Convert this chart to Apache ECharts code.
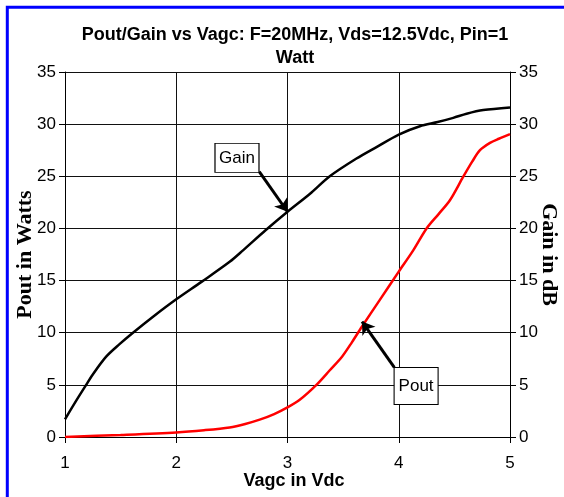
<!DOCTYPE html>
<html>
<head>
<meta charset="utf-8">
<script src="https://cdn.jsdelivr.net/npm/echarts@6/dist/echarts.min.js"></script>
<style>
  html, body { margin: 0; padding: 0; background: #fff; }
  #chart { width: 564px; height: 497px; }
</style>
</head>
<body>
<div id="chart"></div>
<script>
// Gain curve (right axis, dB)
const gainVagc = [1.0, 1.09, 1.19, 1.25, 1.37, 1.49, 1.6, 1.8, 2.0, 2.23, 2.48, 2.6, 2.8, 3.0, 3.2, 3.38, 3.62, 3.8, 4.0, 4.19, 4.35, 4.49, 4.61, 4.76, 5.0];
const gainDb = [1.7, 3.3, 5.0, 6.0, 7.7, 8.9, 9.9, 11.6, 13.2, 14.9, 16.8, 17.9, 19.8, 21.6, 23.3, 25.0, 26.7, 27.8, 29.0, 29.8, 30.2, 30.6, 31.0, 31.35, 31.6];

// Pout curve (left axis, Watts)
const poutVagc = [1.0, 1.5, 2.0, 2.25, 2.48, 2.62, 2.75, 2.88, 3.0, 3.11, 3.26, 3.38, 3.49, 3.58, 3.67, 3.83, 4.0, 4.13, 4.25, 4.36, 4.46, 4.58, 4.66, 4.73, 4.82, 4.9, 5.0];
const poutWatts = [0, 0.2, 0.44, 0.65, 0.92, 1.25, 1.66, 2.2, 2.84, 3.57, 5.0, 6.4, 7.7, 9.1, 10.6, 13.15, 15.86, 17.9, 20.0, 21.4, 22.7, 24.96, 26.4, 27.5, 28.2, 28.6, 29.05];

const titleLines = ['Pout/Gain vs Vagc: F=20MHz, Vds=12.5Vdc, Pin=1', 'Watt'];

const tickFont = "'Liberation Sans', Arial, sans-serif";
const serifFont = "'Liberation Serif', 'Times New Roman', serif";

const pairs = (xs, ys) => xs.map((x, i) => [x, ys[i]]);

const yAxisBase = {
  type: 'value',
  min: 0,
  max: 35,
  interval: 5,
  axisLine: { show: true, lineStyle: { color: '#000', width: 1 } },
  axisTick: { show: true, length: 6, lineStyle: { color: '#000' } },
  axisLabel: { color: '#000', fontSize: 17, fontFamily: tickFont, margin: 9 },
  nameLocation: 'middle',
  nameMoveOverlap: false,
  nameTextStyle: { fontFamily: serifFont, fontWeight: 'bold', fontSize: 22, color: '#000' }
};

const option = {
  animation: false,
  backgroundColor: '#fff',
  title: {
    text: titleLines.join('\n'),
    left: 290,
    top: 19,
    textAlign: 'center',
    textStyle: {
      fontFamily: "'Liberation Sans', Arial, sans-serif",
      fontWeight: 'bold',
      fontSize: 18,
      lineHeight: 23,
      color: '#000'
    }
  },
  graphic: [{
    type: 'rect',
    shape: { x: 7.3, y: 7.3, width: 700, height: 700 },
    style: { fill: 'none', stroke: '#0000ff', lineWidth: 3 },
    silent: true
  }],
  grid: { left: 65, right: 54, top: 72, bottom: 60, containLabel: false, outerBoundsMode: 'none' },
  xAxis: {
    type: 'value',
    min: 1,
    max: 5,
    interval: 1,
    name: 'Vagc in Vdc',
    nameLocation: 'middle',
    nameMoveOverlap: false,
    nameGap: 35,
    nameTextStyle: {
      fontFamily: "'Liberation Sans', Arial, sans-serif",
      fontWeight: 'bold', fontSize: 18, color: '#000',
      padding: [0, 0, 0, 13]
    },
    axisLine: { show: true, lineStyle: { color: '#000', width: 1 } },
    axisTick: { show: true, length: 6, lineStyle: { color: '#000' } },
    axisLabel: { color: '#000', fontSize: 17, fontFamily: tickFont, margin: 18 },
    splitLine: { show: true, lineStyle: { color: '#111', width: 1 } }
  },
  yAxis: [
    Object.assign({}, yAxisBase, {
      position: 'left',
      name: 'Pout in Watts',
      nameRotate: 90,
      nameGap: 29,
      splitLine: { show: true, lineStyle: { color: '#111', width: 1 } }
    }),
    Object.assign({}, yAxisBase, {
      position: 'right',
      name: 'Gain in dB',
      nameRotate: -90,
      nameGap: 28,
      splitLine: { show: false }
    })
  ],
  series: [
    {
      name: 'Pout',
      type: 'line',
      yAxisIndex: 0,
      data: pairs(poutVagc, poutWatts),
      smooth: 0.3,
      showSymbol: false,
      lineStyle: { color: '#ff0000', width: 2.5 },
      z: 3
    },
    {
      name: 'Gain',
      type: 'line',
      yAxisIndex: 1,
      data: pairs(gainVagc, gainDb),
      smooth: 0.3,
      showSymbol: false,
      lineStyle: { color: '#000', width: 2.5 },
      z: 4,
      markLine: {
        silent: true,
        symbol: ['none', 'arrow'],
        symbolSize: 12,
        label: { show: false },
        lineStyle: { color: '#000', width: 3, type: 'solid' },
        data: [
          [{ coord: [2.746, 25.44] }, { coord: [3.0, 21.6] }],
          [{ coord: [3.96, 6.67] }, { coord: [3.67, 11.07] }]
        ]
      },
      markPoint: {
        silent: true,
        symbol: 'rect',
        itemStyle: { color: '#fff', borderColor: '#000', borderWidth: 1 },
        label: {
          show: true,
          position: 'inside',
          color: '#000',
          fontSize: 17,
          fontFamily: tickFont
        },
        data: [
          { name: 'Gain', coord: [2.546, 26.77], symbolSize: [44, 29], label: { formatter: 'Gain' } },
          { name: 'Pout', coord: [4.156, 4.885], symbolSize: [44, 37], label: { formatter: 'Pout' } }
        ]
      }
    }
  ]
};

const myChart = echarts.init(document.getElementById('chart'));
myChart.setOption(option);
</script>
</body>
</html>
